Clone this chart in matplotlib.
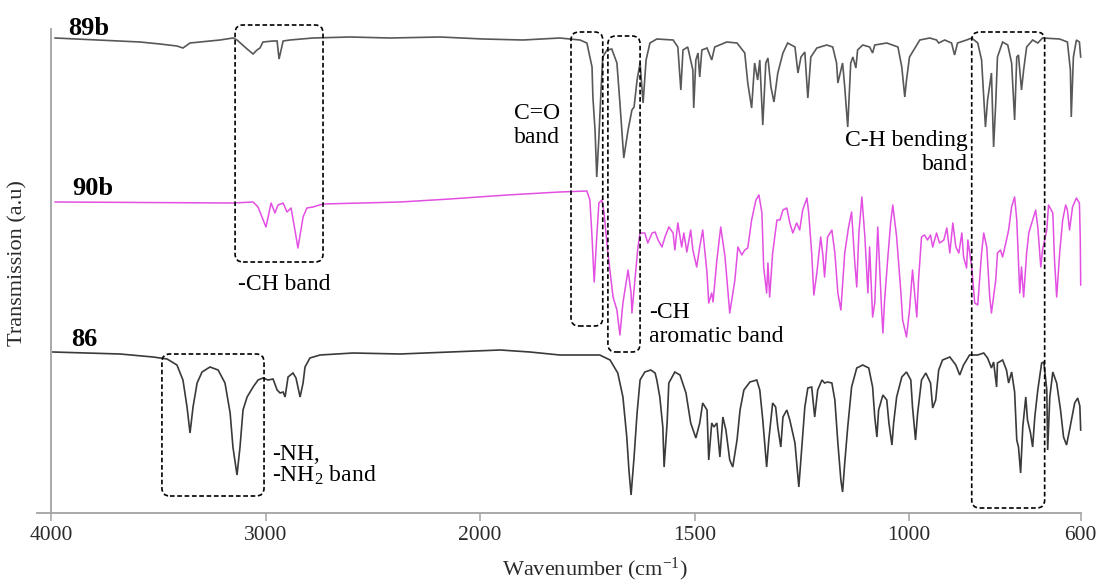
import numpy as np
import matplotlib
matplotlib.use("Agg")
import matplotlib.pyplot as plt
from matplotlib.patches import FancyBboxPatch
from matplotlib.transforms import IdentityTransform

plt.rcParams['font.family'] = 'Liberation Serif'
plt.rcParams['mathtext.fontset'] = 'custom'
plt.rcParams['mathtext.rm'] = 'Liberation Serif'
plt.rcParams['mathtext.it'] = 'Liberation Serif:italic'
plt.rcParams['mathtext.bf'] = 'Liberation Serif:bold'

# ---------------------------------------------------------------------------
# FT-IR spectra (wavenumber in cm-1, stacked transmission in a.u.)
# ---------------------------------------------------------------------------
wn_89b = [3981, 3585, 3492, 3413, 3385, 3352, 3212, 3152, 3133, 3086,
          3058, 3040, 3026, 3012, 2965, 2946, 2937, 2918, 2886, 2779,
          2606, 2420, 2186, 1993, 1900, 1814, 1767, 1751, 1739, 1737,
          1732, 1728, 1723, 1718, 1714, 1704, 1693, 1681, 1674, 1665,
          1655, 1646, 1641, 1634, 1627, 1620, 1613, 1604, 1588, 1550,
          1539, 1532, 1527, 1516, 1504, 1502, 1497, 1492, 1488, 1483,
          1471, 1460, 1453, 1425, 1401, 1383, 1376, 1367, 1360, 1353,
          1348, 1341, 1334, 1329, 1322, 1315, 1306, 1294, 1283, 1266,
          1259, 1252, 1243, 1236, 1229, 1215, 1192, 1178, 1169, 1166,
          1159, 1155, 1150, 1143, 1136, 1131, 1124, 1120, 1108, 1092,
          1085, 1080, 1052, 1026, 1017, 1010, 1006, 999, 992, 982,
          975, 952, 936, 931, 917, 901, 894, 887, 866, 854,
          840, 831, 826, 822, 817, 808, 803, 798, 794, 782,
          770, 761, 754, 749, 745, 738, 733, 726, 712, 700,
          689, 649, 631, 624, 622, 617, 610, 603, 600]
t_89b = [475, 471, 469, 467, 465, 470, 473, 475, 473, 464,
         459, 463, 465, 471, 472, 472, 454, 472, 473, 475,
         476, 475, 476, 474, 473, 475, 473, 470, 446, 416,
         383, 336, 376, 423, 456, 463, 464, 450, 410, 355,
         383, 403, 406, 433, 450, 410, 453, 470, 474, 473,
         466, 423, 463, 466, 443, 405, 453, 460, 436, 463,
         465, 453, 466, 471, 470, 460, 430, 405, 450, 433,
         453, 388, 450, 455, 426, 411, 440, 460, 470, 466,
         440, 456, 461, 415, 456, 465, 468, 466, 450, 430,
         443, 450, 426, 386, 450, 456, 445, 463, 468, 466,
         460, 468, 470, 466, 446, 416, 433, 456, 461, 468,
         473, 475, 473, 470, 473, 470, 458, 470, 473, 475,
         470, 453, 416, 386, 413, 440, 366, 410, 456, 471,
         468, 450, 393, 456, 458, 423, 443, 466, 473, 470,
         475, 474, 471, 443, 396, 456, 473, 471, 456]

wn_90b = [3981, 3152, 3058, 3035, 2998, 2974, 2956, 2942, 2918, 2900,
          2881, 2867, 2849, 2825, 2807, 2779, 2732, 2373, 2140, 1937,
          1814, 1751, 1744, 1739, 1734, 1728, 1723, 1716, 1711, 1702,
          1690, 1681, 1674, 1667, 1655, 1648, 1646, 1639, 1632, 1627,
          1616, 1609, 1599, 1592, 1585, 1576, 1569, 1560, 1550, 1546,
          1539, 1530, 1525, 1518, 1509, 1504, 1495, 1488, 1481, 1471,
          1467, 1460, 1457, 1448, 1439, 1429, 1418, 1406, 1399, 1390,
          1383, 1376, 1367, 1357, 1350, 1343, 1339, 1332, 1329, 1325,
          1318, 1308, 1301, 1294, 1285, 1278, 1271, 1262, 1255, 1248,
          1238, 1234, 1227, 1222, 1215, 1206, 1201, 1197, 1190, 1180,
          1173, 1166, 1159, 1150, 1141, 1134, 1127, 1122, 1117, 1110,
          1103, 1096, 1092, 1085, 1080, 1073, 1064, 1061, 1057, 1050,
          1043, 1038, 1029, 1019, 1015, 1006, 999, 992, 982, 978,
          971, 964, 957, 950, 945, 936, 929, 919, 912, 905,
          898, 891, 884, 877, 873, 866, 863, 854, 847, 840,
          831, 826, 819, 812, 808, 798, 794, 787, 782, 773,
          768, 761, 754, 749, 742, 738, 733, 726, 721, 712,
          705, 700, 693, 689, 679, 675, 665, 661, 656, 649,
          642, 635, 631, 626, 619, 614, 610, 603, 601, 600]
t_90b = [311, 310, 311, 306, 286, 310, 300, 308, 310, 301,
         305, 288, 265, 296, 305, 306, 309, 311, 314, 318,
         321, 322, 313, 276, 231, 276, 310, 313, 300, 260,
         216, 203, 178, 210, 243, 220, 200, 233, 266, 280,
         280, 270, 280, 281, 273, 266, 276, 286, 280, 263,
         290, 266, 280, 261, 283, 263, 246, 266, 283, 240,
         210, 220, 211, 253, 286, 256, 200, 233, 266, 258,
         263, 265, 293, 313, 318, 300, 246, 220, 250, 216,
         260, 293, 293, 303, 305, 290, 280, 290, 283, 303,
         315, 300, 260, 218, 240, 276, 258, 236, 276, 283,
         260, 220, 203, 260, 286, 301, 253, 226, 280, 316,
         276, 220, 266, 196, 210, 286, 203, 180, 213, 253,
         290, 308, 276, 220, 193, 176, 203, 243, 196, 233,
         276, 278, 273, 278, 266, 280, 270, 273, 285, 260,
         290, 266, 260, 280, 256, 245, 273, 246, 210, 208,
         260, 280, 266, 216, 200, 233, 260, 263, 256, 273,
         283, 306, 316, 293, 220, 246, 216, 260, 280, 293,
         303, 286, 246, 263, 283, 308, 300, 253, 216, 260,
         293, 308, 303, 283, 306, 311, 315, 310, 275, 228]

wn_86 = [3991, 3832, 3678, 3524, 3459, 3413, 3385, 3366, 3352, 3338,
         3319, 3296, 3259, 3221, 3189, 3165, 3152, 3133, 3119, 3105,
         3086, 3058, 3035, 3012, 2988, 2965, 2946, 2932, 2918, 2909,
         2895, 2872, 2858, 2839, 2825, 2816, 2793, 2746, 2592, 2373,
         2140, 1953, 1884, 1814, 1767, 1721, 1697, 1679, 1667, 1658,
         1653, 1648, 1641, 1634, 1627, 1616, 1602, 1592, 1588, 1581,
         1574, 1571, 1564, 1560, 1546, 1534, 1520, 1509, 1497, 1488,
         1481, 1471, 1467, 1460, 1455, 1448, 1441, 1434, 1427, 1418,
         1411, 1401, 1394, 1385, 1371, 1355, 1348, 1341, 1332, 1327,
         1318, 1311, 1306, 1299, 1294, 1285, 1278, 1266, 1257, 1250,
         1243, 1236, 1227, 1220, 1213, 1203, 1197, 1190, 1180, 1173,
         1166, 1159, 1155, 1150, 1143, 1134, 1122, 1108, 1094, 1085,
         1080, 1075, 1071, 1061, 1052, 1047, 1040, 1036, 1029, 1017,
         1006, 996, 992, 985, 980, 971, 961, 950, 945, 938,
         931, 922, 905, 891, 882, 873, 859, 840, 826, 817,
         808, 803, 796, 794, 782, 773, 768, 761, 754, 749,
         745, 740, 735, 728, 724, 717, 712, 707, 700, 691,
         686, 679, 677, 672, 665, 656, 647, 640, 633, 626,
         614, 607, 602, 600]
t_86 = [161, 160, 159, 156, 154, 148, 133, 106, 80, 106,
        130, 141, 146, 143, 130, 100, 66, 38, 66, 103,
        116, 126, 133, 135, 133, 134, 123, 120, 121, 116,
        136, 140, 135, 116, 130, 146, 155, 158, 160, 159,
        161, 163, 161, 158, 158, 158, 153, 140, 116, 76,
        43, 18, 56, 100, 133, 141, 143, 140, 133, 116,
        86, 46, 90, 130, 141, 138, 120, 90, 75, 90,
        110, 103, 53, 90, 86, 90, 56, 96, 83, 53,
        46, 73, 103, 123, 131, 133, 123, 93, 46, 73,
        110, 106, 86, 66, 96, 103, 93, 70, 26, 66,
        106, 125, 126, 96, 123, 133, 130, 131, 130, 113,
        70, 33, 21, 50, 86, 126, 145, 148, 145, 126,
        96, 76, 103, 118, 113, 90, 68, 90, 116, 136,
        141, 133, 106, 73, 100, 133, 140, 130, 105, 113,
        143, 153, 156, 148, 138, 148, 158, 158, 160, 155,
        145, 151, 126, 150, 153, 143, 130, 141, 121, 73,
        66, 40, 86, 116, 93, 80, 66, 96, 123, 150,
        151, 123, 63, 116, 141, 130, 103, 76, 68, 83,
        110, 115, 107, 83]

x_ticks = [4000, 3000, 2000, 1500, 1000, 600]
x_tick_labels = ['4000', '3000', '2000', '1500', '1000', '600']


# Split wavenumber axis: the region below 2000 cm-1 is drawn at twice the
# scale of the 4000-2000 cm-1 region.
def forward(w):
    w = np.asarray(w, dtype=float)
    return np.where(w >= 2000, w, 2.0 * w - 2000.0)


def inverse(u):
    u = np.asarray(u, dtype=float)
    return np.where(u >= 2000, u, (u + 2000.0) / 2.0)


fig = plt.figure(figsize=(11.04, 5.82), dpi=100)
ax = fig.add_axes([30 / 1104, 49 / 582, 1070 / 1104, 520 / 582])
ax.set_xscale('function', functions=(forward, inverse))

ax.plot(wn_89b, t_89b, color='#585858', lw=1.2, solid_joinstyle='miter')
ax.plot(wn_90b, t_90b, color='#e24fe2', lw=1.1)
ax.plot(wn_86, t_86, color='#3a3a3a', lw=1.2, solid_joinstyle='miter')

ax.set_xlim(4098, 555)
ax.set_ylim(-20, 500)

# axes lines
for side in ('top', 'right'):
    ax.spines[side].set_visible(False)
axis_grey = '#a3a3a3'
ax.spines['bottom'].set_position(('data', 0))
ax.spines['bottom'].set_bounds(4065, 600)
ax.spines['left'].set_position(('data', 4000))
ax.spines['left'].set_bounds(0, 484)
for side in ('bottom', 'left'):
    ax.spines[side].set_color(axis_grey)
    ax.spines[side].set_linewidth(1.3)

ax.set_xticks(x_ticks)
ax.set_xticklabels(x_tick_labels)
ax.set_yticks([])
ax.tick_params(axis='x', direction='out', length=5.5, width=1.1,
               color=axis_grey, labelsize=15.5, labelcolor='#2a2a2a', pad=4)

# sample labels
for name, (w, t) in {'89b': (3921, 478), '90b': (3902, 318), '86': (3907, 167)}.items():
    ax.text(w, t, name, fontsize=19, fontweight='bold', ha='left', va='baseline')

# band annotations
ann_kw = dict(fontsize=17, va='baseline', color='black')
ax.text(3128, 223, '-CH band', ha='left', **ann_kw)
ax.text(1814, 370, 'C=O\nband', ha='right', multialignment='right',
        linespacing=1.2, **ann_kw)
ax.text(1606, 171, '-CH\naromatic band', ha='left', multialignment='left',
        linespacing=1.2, **ann_kw)
ax.text(863, 343, 'C-H bending\nband', ha='right', multialignment='right',
        linespacing=1.2, **ann_kw)
ax.text(2970, 53, '-NH,', ha='left', **ann_kw)
ax.text(2970, 31, r'-NH$_{\mathregular{2}}$ band', ha='left', **ann_kw)

# dashed boxes around the characteristic bands (wn_left, wn_right, t_low, t_high)
band_boxes = [(3142, 2732, 251, 488),
              (1788, 1714, 187, 481),
              (1702, 1627, 161, 477),
              (854, 684, 5, 481),
              (3483, 3007, 17, 159)]
for w0, w1, t0, t1 in band_boxes:
    (x0, y0), (x1, y1) = ax.transData.transform([(w0, t0), (w1, t1)])
    box = FancyBboxPatch((min(x0, x1), min(y0, y1)), abs(x1 - x0), abs(y1 - y0),
                         boxstyle='round,pad=0,rounding_size=8',
                         transform=IdentityTransform(), fill=False,
                         edgecolor='black', linewidth=1.2,
                         linestyle=(0, (2.8, 1.6)), clip_on=False, zorder=5)
    fig.add_artist(box)

fig.text(595 / 1104, 1 - 575 / 582, r'Wavenumber (cm$^{\mathregular{-1}}$)',
         fontsize=16, ha='center', va='baseline', color='#2a2a2a')
fig.text(18 / 1104, 1 - 263 / 582, 'Transmission (a.u)', fontsize=16,
         rotation=90, ha='center', va='center', color='#2a2a2a')

fig.savefig('out.png', dpi=100)
